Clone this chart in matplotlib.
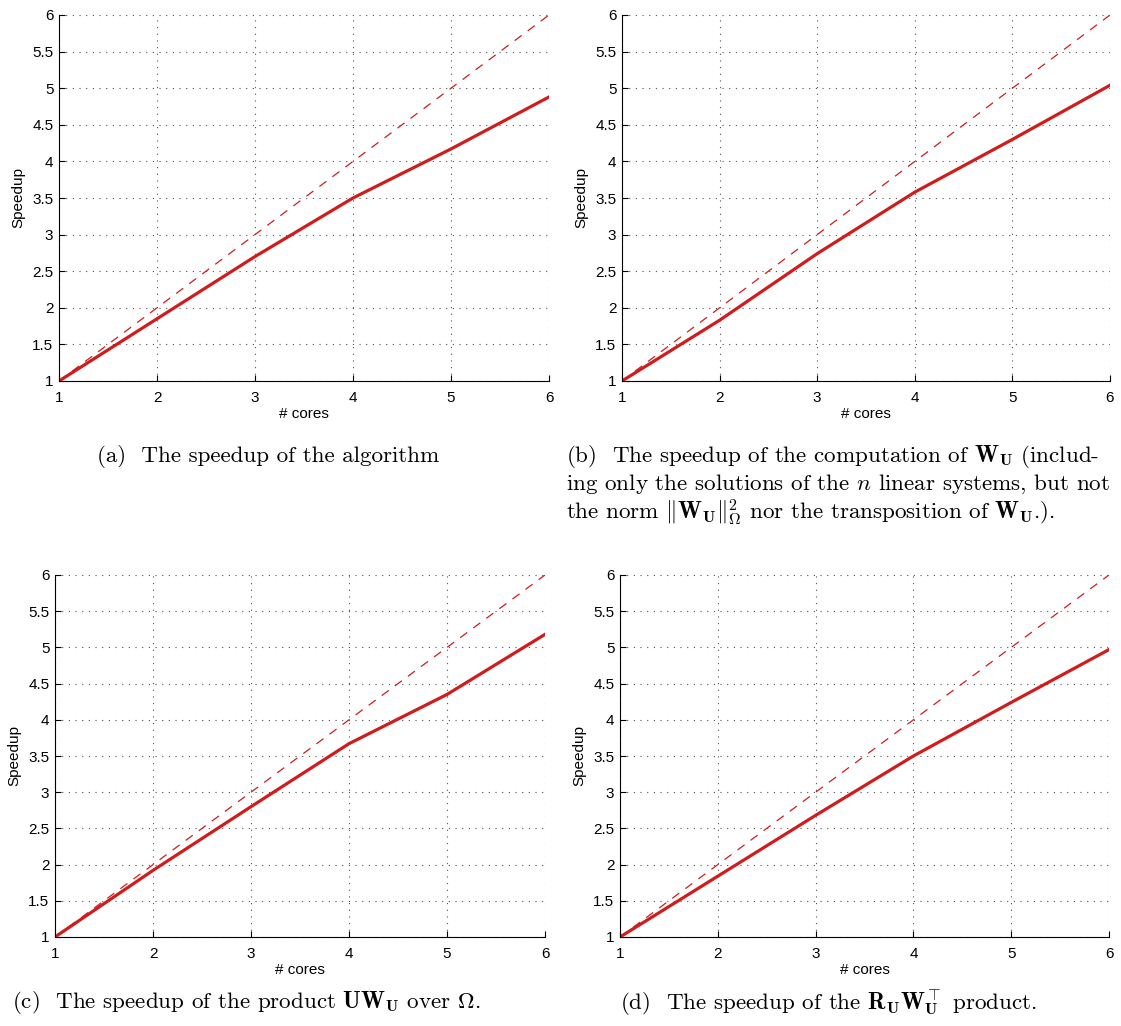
import numpy as np
import matplotlib
matplotlib.use("Agg")
import matplotlib.pyplot as plt
from matplotlib.ticker import MultipleLocator

# data
cores = [1, 2, 3, 4, 5, 6]
speedup_a = [1.0, 1.85, 2.70, 3.50, 4.17, 4.88]
speedup_b = [1.0, 1.83, 2.74, 3.58, 4.30, 5.04]
speedup_c = [1.0, 1.92, 2.80, 3.67, 4.35, 5.18]
speedup_d = [1.0, 1.84, 2.68, 3.50, 4.24, 4.97]
ideal = [1, 2, 3, 4, 5, 6]

captions = {
    "a": [r"(a)  The speedup of the algorithm"],
    "b": [r"(b)  The speedup of the computation of $\mathbf{W}_{\mathbf{U}}$ (includ-",
          r"ing only the solutions of the $n$ linear systems, but not",
          r"the norm $\|\mathbf{W}_{\mathbf{U}}\|_{\Omega}^{2}$ nor the transposition of $\mathbf{W}_{\mathbf{U}}$.)."],
    "c": [r"(c)  The speedup of the product $\mathbf{U}\mathbf{W}_{\mathbf{U}}$ over $\Omega$."],
    "d": [r"(d)  The speedup of the $\mathbf{R}_{\mathbf{U}}\mathbf{W}_{\mathbf{U}}^{\top}$ product."],
}

plt.rcParams["mathtext.fontset"] = "cm"
plt.rcParams["font.family"] = ["Liberation Sans", "DejaVu Sans"]

W, H = 1121, 1026
fig = plt.figure(figsize=(W / 100, H / 100), dpi=100)

red = "#cf1d1d"


def px_axes(x0, y0, x1, y1):
    return fig.add_axes([x0 / W, 1 - y1 / H, (x1 - x0) / W, (y1 - y0) / H])


def panel(ax, y):
    ax.plot(cores, ideal, "--", color=red, lw=0.9, dashes=(7, 6))
    ax.plot(cores, y, "-", color=red, lw=2.3)
    ax.set_xlim(1, 6)
    ax.set_ylim(1, 6)
    ax.xaxis.set_major_locator(MultipleLocator(1))
    ax.set_yticks(np.arange(1, 6.01, 0.5))
    ax.set_yticklabels(["1", "1.5", "2", "2.5", "3", "3.5", "4", "4.5", "5", "5.5", "6"])
    ax.grid(True, linestyle=(0, (1, 5)), color="#505050", lw=0.8)
    ax.spines["top"].set_visible(False)
    ax.spines["right"].set_visible(False)
    ax.tick_params(direction="in", length=4, width=0.8, labelsize=11)
    ax.tick_params(axis="x", pad=7)
    ax.tick_params(axis="y", pad=4)
    ax.set_xlabel("# cores", fontsize=11, labelpad=2)
    ax.set_ylabel("Speedup", fontsize=11, labelpad=5)


ax_a = px_axes(59, 15, 549, 381)
ax_b = px_axes(622, 15, 1110, 381)
ax_c = px_axes(55, 575, 545, 937)
ax_d = px_axes(620, 575, 1109, 937)

panel(ax_a, speedup_a)
panel(ax_b, speedup_b)
panel(ax_c, speedup_c)
panel(ax_d, speedup_d)

cap_font = dict(fontsize=16.6, family="cmr10", va="center")
fig.text(97 / W, 1 - 457 / H, captions["a"][0], ha="left", **cap_font)
for i, line in enumerate(captions["b"]):
    fig.text(566 / W, 1 - (456 + 28.5 * i) / H, line, ha="left", **cap_font)
fig.text(12 / W, 1 - 1003 / H, captions["c"][0], ha="left", **cap_font)
fig.text(620 / W, 1 - 1003 / H, captions["d"][0], ha="left", **cap_font)

fig.savefig("out.png", dpi=100)
